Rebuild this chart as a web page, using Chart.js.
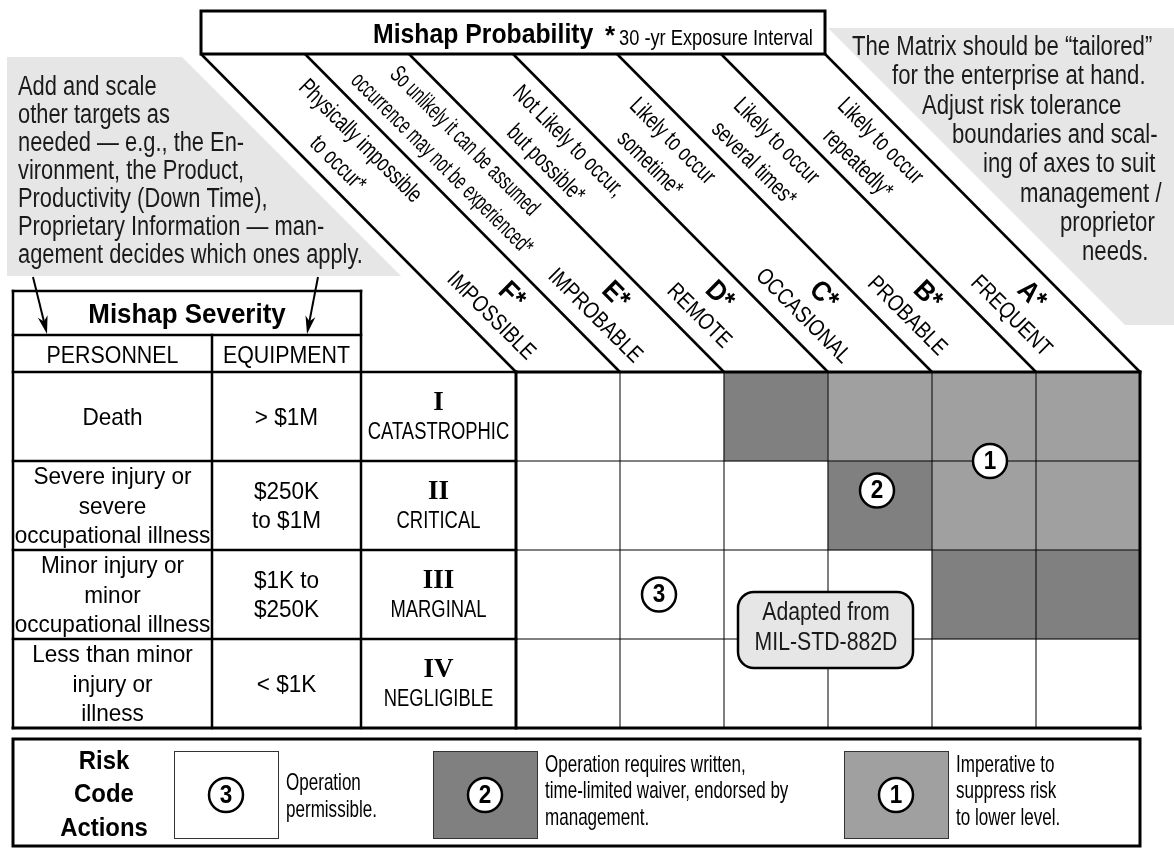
<!DOCTYPE html>
<html>
<head>
<meta charset="utf-8">
<title>Risk Assessment Matrix</title>
<script src="https://cdn.jsdelivr.net/npm/chart.js@4.4.1/dist/chart.umd.min.js"></script>
<style>
  html, body { margin: 0; padding: 0; background: #fff; }
  #wrap { width: 1174px; height: 848px; }
</style>
</head>
<body>
<div id="wrap"><canvas id="matrix" width="1174" height="848"></canvas></div>
<script>
// Probability columns, left to right
const probCols = ['F', 'E', 'D', 'C', 'B', 'A'];
const probNames = ['IMPOSSIBLE', 'IMPROBABLE', 'REMOTE', 'OCCASIONAL', 'PROBABLE', 'FREQUENT'];
const probDesc = [
    ['Physically impossible', 'to occur*'],
    ['So unlikely it can be assumed', 'occurrence may not be experienced*'],
    ['Not Likely to occur,', 'but possible*'],
    ['Likely to occur', 'sometime*'],
    ['Likely to occur', 'several times*'],
    ['Likely to occur', 'repeatedly*']
];

// Severity rows, top to bottom
const sevRows = ['I', 'II', 'III', 'IV'];
const sevNames = ['CATASTROPHIC', 'CRITICAL', 'MARGINAL', 'NEGLIGIBLE'];
const personnel = [
    ['Death'],
    ['Severe injury or', 'severe', 'occupational illness'],
    ['Minor injury or', 'minor', 'occupational illness'],
    ['Less than minor', 'injury or', 'illness']
];
const equipment = [
    ['> $1M'],
    ['$250K', 'to $1M'],
    ['$1K to', '$250K'],
    ['< $1K']
];

// Risk code of each cell (F..A) per severity row
const riskI = [3, 3, 2, 1, 1, 1];
const riskII = [3, 3, 3, 2, 1, 1];
const riskIII = [3, 3, 3, 3, 2, 2];
const riskIV = [3, 3, 3, 3, 3, 3];

const codeColors = { 1: '#a0a0a0', 2: '#808080', 3: '#ffffff' };
const legendCodes = [3, 2, 1];
const legendText = [
    ['Operation', 'permissible.'],
    ['Operation requires written,', 'time-limited waiver, endorsed by', 'management.'],
    ['Imperative to', 'suppress risk', 'to lower level.']
];

const leftNote = [
    'Add and scale', 'other targets as', 'needed \u2014 e.g., the En-',
    'vironment, the Product,', 'Productivity (Down Time),',
    'Proprietary Information \u2014 man-', 'agement decides which ones apply.'
];
const rightNote = [
    'The Matrix should be \u201ctailored\u201d', 'for the enterprise at hand.',
    'Adjust risk tolerance', 'boundaries and scal-', 'ing of axes to suit',
    'management /', 'proprietor', 'needs.'
];
const rightNoteX = [852, 892, 922, 952, 983, 1020, 1060, 1082];

const SANS = '"Liberation Sans", Arial, sans-serif';
const SERIF = '"Liberation Serif", "Times New Roman", serif';
const D45 = Math.PI / 4;

function text(ctx, s, x, y, size, opt) {
    opt = opt || {};
    ctx.save();
    ctx.font = (opt.bold ? 'bold ' : '') + size + 'px ' + (opt.family || SANS);
    ctx.fillStyle = opt.color || '#000';
    ctx.textAlign = opt.align || 'left';
    ctx.textBaseline = opt.baseline || 'alphabetic';
    ctx.translate(x, y);
    if (opt.rot) ctx.rotate(opt.rot);
    ctx.scale(opt.sx || 1, 1);
    ctx.fillText(s, 0, 0);
    ctx.restore();
}

function line(ctx, x1, y1, x2, y2, w) {
    ctx.beginPath();
    ctx.moveTo(x1, y1);
    ctx.lineTo(x2, y2);
    ctx.lineWidth = w;
    ctx.strokeStyle = '#000';
    ctx.stroke();
}

function arrow(ctx, x1, y1, x2, y2) {
    line(ctx, x1, y1, x2 - (x2 - x1) * 0.2, y2 - (y2 - y1) * 0.2, 2);
    const ang = Math.atan2(y2 - y1, x2 - x1);
    ctx.save();
    ctx.translate(x2, y2);
    ctx.rotate(ang);
    ctx.beginPath();
    ctx.moveTo(0, 0);
    ctx.lineTo(-18, -5);
    ctx.lineTo(-13, 0);
    ctx.lineTo(-18, 5);
    ctx.closePath();
    ctx.fillStyle = '#000';
    ctx.fill();
    ctx.restore();
}

function circled(ctx, x, y, n) {
    ctx.beginPath();
    ctx.arc(x, y, 17, 0, Math.PI * 2);
    ctx.fillStyle = '#fff';
    ctx.fill();
    ctx.lineWidth = 2.5;
    ctx.strokeStyle = '#000';
    ctx.stroke();
    text(ctx, String(n), x, y + 1, 25, { bold: true, align: 'center', baseline: 'middle', sx: 0.9 });
}

// point on a diagonal band: u along the band (negative = up-left of grid top), v across it
function bandPoint(xc, top, u, v) {
    return [xc + (u - v) / Math.SQRT2, top + (u + v) / Math.SQRT2];
}

const matrixDecor = {
    id: 'matrixDecor',
    beforeDraw(chart) {
        const ctx = chart.ctx;
        // grey notes
        ctx.fillStyle = '#e6e6e6';
        ctx.beginPath();
        ctx.moveTo(7, 57); ctx.lineTo(182, 57); ctx.lineTo(401, 276); ctx.lineTo(7, 276);
        ctx.closePath(); ctx.fill();
        ctx.beginPath();
        ctx.moveTo(828, 28); ctx.lineTo(1174, 28); ctx.lineTo(1174, 325); ctx.lineTo(1125, 325);
        ctx.closePath(); ctx.fill();

        leftNote.forEach((s, i) => text(ctx, s, 18, 95 + i * 28, 27, { sx: 0.81, color: '#1a1a1a' }));
        rightNote.forEach((s, i) => text(ctx, s, rightNoteX[i], 55 + i * 29.3, 27, { sx: 0.82, color: '#1a1a1a' }));
    },
    afterDatasetsDraw(chart) {
        const { ctx, chartArea: a, scales: { x, y } } = chart;
        const cw = x.getPixelForValue(1) - x.getPixelForValue(0);
        const edge = k => x.getPixelForValue(0) - cw / 2 + k * cw;
        const rowTop = i => y.getPixelForValue(i);

        // thin cell lines
        for (let k = 1; k < probCols.length; k++) line(ctx, edge(k), a.top, edge(k), a.bottom, 1);
        for (let i = 1; i < sevRows.length; i++) line(ctx, a.left, rowTop(i), a.right, rowTop(i), 1);

        // left table
        const tL = 13, pR = 212, eR = 361, sevTop = 291, subTop = 335;
        ctx.lineCap = 'square';
        line(ctx, tL, sevTop, eR, sevTop, 2.5);
        line(ctx, tL, subTop, eR, subTop, 2.5);
        line(ctx, tL, sevTop, tL, a.bottom, 2.5);
        line(ctx, eR, sevTop, eR, a.bottom, 2.5);
        line(ctx, pR, subTop, pR, a.bottom, 2.5);
        for (let i = 0; i < sevRows.length; i++) line(ctx, tL, rowTop(i), a.left, rowTop(i), 2.5);
        // grid outline
        line(ctx, a.left, a.top, a.right, a.top, 3);
        line(ctx, a.left, a.top, a.left, a.bottom, 3);
        line(ctx, a.right, a.top, a.right, a.bottom, 3);
        line(ctx, tL, a.bottom, a.right, a.bottom, 3);
        ctx.lineCap = 'butt';

        text(ctx, 'Mishap Severity', 187, 323, 27, { bold: true, align: 'center', sx: 0.96 });
        text(ctx, 'PERSONNEL', (tL + pR) / 2, 363, 23, { align: 'center', sx: 0.93 });
        text(ctx, 'EQUIPMENT', (pR + eR) / 2, 363, 23, { align: 'center', sx: 0.93 });

        const lh = 29.5;
        sevRows.forEach((sev, i) => {
            const top = rowTop(i);
            const mid = (rowTop(i) + rowTop(i + 1)) / 2;
            personnel[i].forEach((s, k) => {
                const yy = mid + 8 + (k - (personnel[i].length - 1) / 2) * lh;
                text(ctx, s, (tL + pR) / 2, yy, 24, { align: 'center', sx: 0.94 });
            });
            equipment[i].forEach((s, k) => {
                const yy = mid + 8 + (k - (equipment[i].length - 1) / 2) * lh;
                text(ctx, s, (pR + eR) / 2, yy, 24, { align: 'center', sx: 0.94 });
            });
            text(ctx, sev, (eR + a.left) / 2, top + 38, 27, { bold: true, family: SERIF, align: 'center' });
            text(ctx, sevNames[i], (eR + a.left) / 2, top + 67, 23, { align: 'center', sx: 0.8 });
        });
        // arrows from the left note
        arrow(ctx, 33, 277, 47, 334);
        arrow(ctx, 318, 277, 307, 334);

        // probability header
        const hTop = 11, hBot = 54, rise = a.top - hBot;
        ctx.lineWidth = 3;
        ctx.strokeStyle = '#000';
        ctx.fillStyle = '#fff';
        ctx.fillRect(edge(0) - rise + 3, hTop, edge(6) - edge(0), hBot - hTop);
        ctx.strokeRect(edge(0) - rise + 3, hTop, edge(6) - edge(0), hBot - hTop);
        for (let k = 0; k <= probCols.length; k++) {
            line(ctx, edge(k) - rise + 3, hBot, edge(k), a.top, 2.5);
        }
        text(ctx, 'Mishap Probability', 373, 43, 28, { bold: true, sx: 0.885 });
        text(ctx, '*', 605, 44, 26, { bold: true });
        text(ctx, '30 -yr Exposure Interval', 619, 45, 22, { sx: 0.83 });

        const descSx = [0.72, 0.63, 0.72, 0.72, 0.72, 0.72];
        probCols.forEach((c, j) => {
            const xc = x.getPixelForValue(j);
            probDesc[j].forEach((s, k) => {
                const p = bandPoint(xc, a.top, -310, k === 0 ? -16 : 16);
                text(ctx, s, p[0], p[1], 24, { align: 'center', baseline: 'middle', rot: D45, sx: descSx[j] });
            });
            let p = bandPoint(xc, a.top, -94, -14);
            text(ctx, c + '*', p[0], p[1], 28, { bold: true, align: 'center', baseline: 'middle', rot: D45, sx: 0.9 });
            p = bandPoint(xc, a.top, -94, 15);
            text(ctx, probNames[j], p[0], p[1], 23, { align: 'center', baseline: 'middle', rot: D45, sx: 0.82 });
        });

        // risk code markers in the grid
        circled(ctx, x.getPixelForValue(4) + 6, rowTop(1), 1);
        circled(ctx, x.getPixelForValue(3) - 3, (rowTop(1) + rowTop(2)) / 2 - 15, 2);
        circled(ctx, x.getPixelForValue(1) - 13, (rowTop(2) + rowTop(3)) / 2, 3);

        // source note
        ctx.beginPath();
        ctx.roundRect(738, 592, 175, 76, 16);
        ctx.fillStyle = '#e6e6e6';
        ctx.fill();
        ctx.lineWidth = 2.5;
        ctx.stroke();
        text(ctx, 'Adapted from', 826, 620, 25, { align: 'center', sx: 0.85, color: '#1a1a1a' });
        text(ctx, 'MIL-STD-882D', 826, 650, 25, { align: 'center', sx: 0.85, color: '#1a1a1a' });

        // risk code legend
        const lgTop = 739, lgBot = 846;
        ctx.lineWidth = 3;
        ctx.strokeRect(tL, lgTop, a.right - tL, lgBot - lgTop);
        text(ctx, 'Risk', 104, 769, 26, { bold: true, align: 'center', sx: 0.92 });
        text(ctx, 'Code', 104, 802, 26, { bold: true, align: 'center', sx: 0.92 });
        text(ctx, 'Actions', 104, 836, 26, { bold: true, align: 'center', sx: 0.92 });
        const swX = [174, 433, 844];
        legendCodes.forEach((code, i) => {
            ctx.fillStyle = codeColors[code];
            ctx.fillRect(swX[i], 751, cw, 87);
            ctx.lineWidth = 1;
            ctx.strokeStyle = '#333';
            ctx.strokeRect(swX[i] + 0.5, 751.5, cw, 87);
            circled(ctx, swX[i] + cw / 2, 795, code);
            const lines = legendText[i];
            const ys = lines.length === 2 ? [790, 817] : [772, 798, 825];
            lines.forEach((s, k) => text(ctx, s, swX[i] + cw + 8, ys[k], 24, { sx: 0.71 }));
        });
    }
};

const rows = [riskI, riskII, riskIII, riskIV];
const datasets = sevRows.map((sev, i) => ({
    label: sev,
    data: rows[i].map(() => [i, i + 1]),
    backgroundColor: rows[i].map(code => codeColors[code]),
    borderWidth: 0,
    grouped: false,
    barPercentage: 1,
    categoryPercentage: 1
}));

new Chart(document.getElementById('matrix'), {
    type: 'bar',
    data: { labels: probCols, datasets: datasets },
    options: {
        responsive: false,
        animation: false,
        layout: { padding: { left: 516, right: 34, top: 372, bottom: 120 } },
        plugins: { legend: { display: false }, tooltip: { enabled: false } },
        scales: {
            x: { display: false },
            y: { display: false, min: 0, max: 4, reverse: true }
        }
    },
    plugins: [matrixDecor]
});
</script>
</body>
</html>
